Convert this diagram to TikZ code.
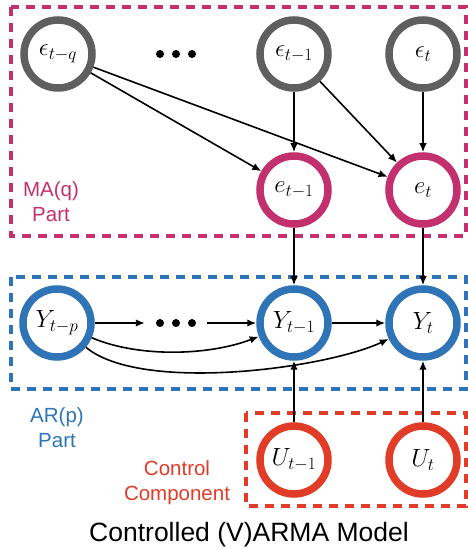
\documentclass[tikz,border=0pt]{standalone}
\usepackage{fontspec}
\setmainfont{Liberation Sans}
\usetikzlibrary{arrows.meta}
\DeclareMathSizes{23.5}{23.5}{18}{14}
\definecolor{maC}{HTML}{C3306E}
\definecolor{arC}{HTML}{2E74B7}
\definecolor{ctlC}{HTML}{E03C27}
\definecolor{noiseC}{HTML}{5F5F5F}
\begin{document}
\begin{tikzpicture}[x=1pt,y=1pt,
  var/.style={circle, draw, line width=7.5pt, minimum size=68pt, inner sep=0pt,
              fill=white, font=\fontsize{23.5}{28}\selectfont},
  noise/.style={var, draw=noiseC},
  mavar/.style={var, draw=maC},
  arvar/.style={var, draw=arC},
  ctlvar/.style={var, draw=ctlC},
  frame/.style={line width=4pt, dash pattern=on 9pt off 7pt},
  dotsrow/.style={minimum width=62pt, minimum height=10pt, inner sep=0pt},
  lab/.style={align=center, font=\fontsize{20.5}{25}\selectfont},
  arr/.style={line width=1.6pt, -{Latex[length=9pt,width=7.5pt]}}]
\useasboundingbox (0,0) rectangle (468,549);

% dashed frames of the three parts
\draw[frame, maC]  (11,542) rectangle (466,313);
\draw[frame, arC]  (11,272) rectangle (466,160);
\draw[frame, ctlC] (246,136) rectangle (466,43);

% noise terms
\node[noise] (epsq) at (58,495)  {$\epsilon_{t-q}$};
\node[noise] (eps1) at (294,495) {$\epsilon_{t-1}$};
\node[noise] (eps0) at (423,495) {$\epsilon_t$};
\node[dotsrow] (edots) at (176,495) {};

% MA errors
\node[mavar] (e1) at (294,359) {$e_{t-1}$};
\node[mavar] (e0) at (423,359) {$e_t$};

% AR outputs
\node[arvar] (Yp) at (57,226)  {$Y_{t-p}$};
\node[arvar] (Y1) at (294,226) {$Y_{t-1}$};
\node[arvar] (Y0) at (423,226) {$Y_t$};
\node[dotsrow] (ydots) at (176,226) {};

% control inputs
\node[ctlvar] (U1) at (294,89) {$U_{t-1}$};
\node[ctlvar] (U0) at (423,89) {$U_t$};

% ellipses
\foreach \dx in {-16,0,16} {
  \fill (edots.center) ++(\dx,0) circle (4);
  \fill (ydots.center) ++(\dx,0) circle (4);
}

% labels
\node[lab, text=maC]  (maLab)  at (51,347)  {MA(q)\\Part};
\node[lab, text=arC]  (arLab)  at (57,121)  {AR(p)\\Part};
\node[lab, text=ctlC] (ctlLab) at (177,66)  {Control\\Component};
\node[font=\fontsize{26.5}{30}\selectfont] (title) at (249,14) {Controlled (V)ARMA Model};

% edges
\draw[arr] (epsq) -- (e1);
\draw[arr] (epsq) -- (e0);
\draw[arr] (eps1) -- (e1);
\draw[arr] (eps1) -- (e0);
\draw[arr] (eps0) -- (e0);
\draw[arr] (e1) -- (Y1);
\draw[arr] (e0) -- (Y0);
\draw[arr] (Yp) -- (ydots);
\draw[arr] (ydots) -- (Y1);
\draw[arr] (Y1) -- (Y0);
\draw[arr] (Yp) to[out=-23, in=201, looseness=0.8] (Y1);
\draw[arr] (Yp) to[out=-40, in=205, looseness=0.6] (Y0);
\draw[arr] (U1) -- (Y1);
\draw[arr] (U0) -- (Y0);
\end{tikzpicture}
\end{document}
